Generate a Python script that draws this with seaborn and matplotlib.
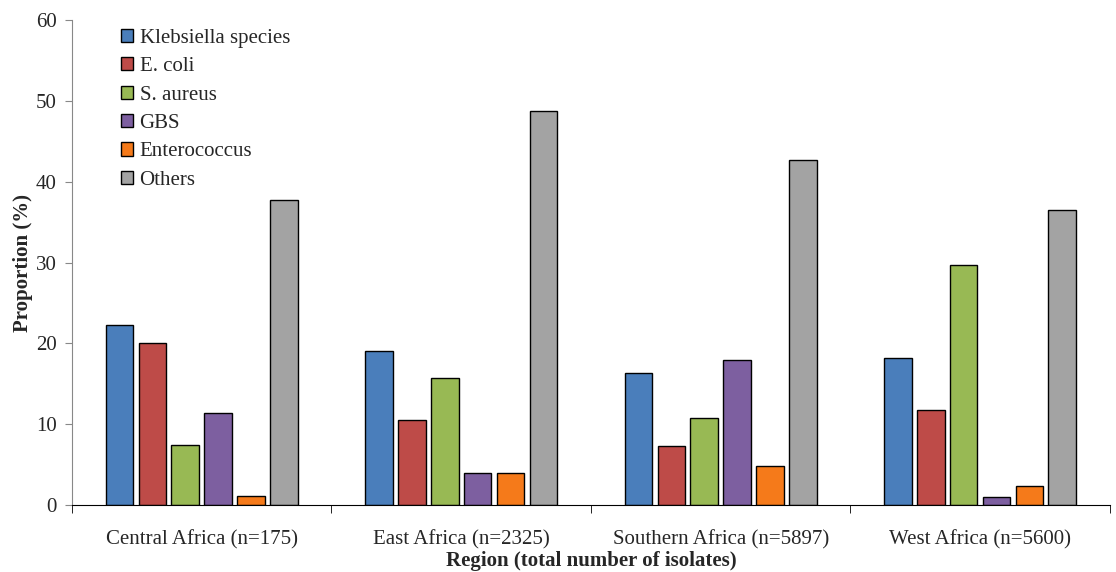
import matplotlib.pyplot as plt
import pandas as pd
import seaborn as sns

regions = ["Central Africa (n=175)", "East Africa (n=2325)",
           "Southern Africa (n=5897)", "West Africa (n=5600)"]
organisms = ["Klebsiella species", "E. coli", "S. aureus", "GBS", "Enterococcus", "Others"]
klebsiella = [22.3, 19.1, 16.3, 18.2]
e_coli = [20.0, 10.5, 7.3, 11.8]
s_aureus = [7.4, 15.7, 10.8, 29.7]
gbs = [11.4, 4.0, 18.0, 1.0]
enterococcus = [1.1, 4.0, 4.8, 2.4]
others = [37.7, 48.8, 42.7, 36.5]
colors = ["#4A7EBB", "#BE4B48", "#98B954", "#7D5FA0", "#F57A1A", "#A3A3A3"]

series = [klebsiella, e_coli, s_aureus, gbs, enterococcus, others]
rows = []
for org, vals in zip(organisms, series):
    for reg, v in zip(regions, vals):
        rows.append({"Region": reg, "Organism": org, "Proportion": v})
df = pd.DataFrame(rows)

sns.set_style("white")
plt.rcParams["font.family"] = ["Liberation Serif", "DejaVu Serif"]

fig = plt.figure(figsize=(11.16, 5.72), dpi=100)
ax = fig.add_axes([0.0645, 0.117, 0.930, 0.848])
sns.barplot(data=df, x="Region", y="Proportion", hue="Organism",
            hue_order=organisms, order=regions, palette=colors, saturation=1,
            width=0.76, gap=0.16, edgecolor="black", linewidth=1.0,
            ax=ax, legend=True)

ax.set_ylim(0, 60)
ax.set_xlim(-0.5, 3.5)
ax.set_yticks(range(0, 61, 10))
ax.tick_params(axis="y", labelsize=15, length=5, direction="out", left=True,
               color="#888888", pad=6)
ax.set_xticks([-0.5, 0.5, 1.5, 2.5, 3.5], minor=True)
ax.tick_params(axis="x", which="minor", length=6, bottom=True, color="black")
ax.tick_params(axis="x", which="major", length=0, labelsize=15, pad=18)
for s in ["top", "right"]:
    ax.spines[s].set_visible(False)
ax.spines["left"].set_color("#888888")
ax.spines["bottom"].set_color("black")
ax.set_ylabel("Proportion (%)", fontsize=15, fontweight="bold", labelpad=2)
ax.set_xlabel("Region (total number of isolates)", fontsize=15, fontweight="bold", labelpad=1)

ax.legend(loc="upper left", bbox_to_anchor=(0.033, 1.012), frameon=False, fontsize=15,
          handlelength=0.6, handleheight=0.6, handletextpad=0.3, labelspacing=0.45,
          borderaxespad=0.3)

fig.savefig("out.png", dpi=100)
